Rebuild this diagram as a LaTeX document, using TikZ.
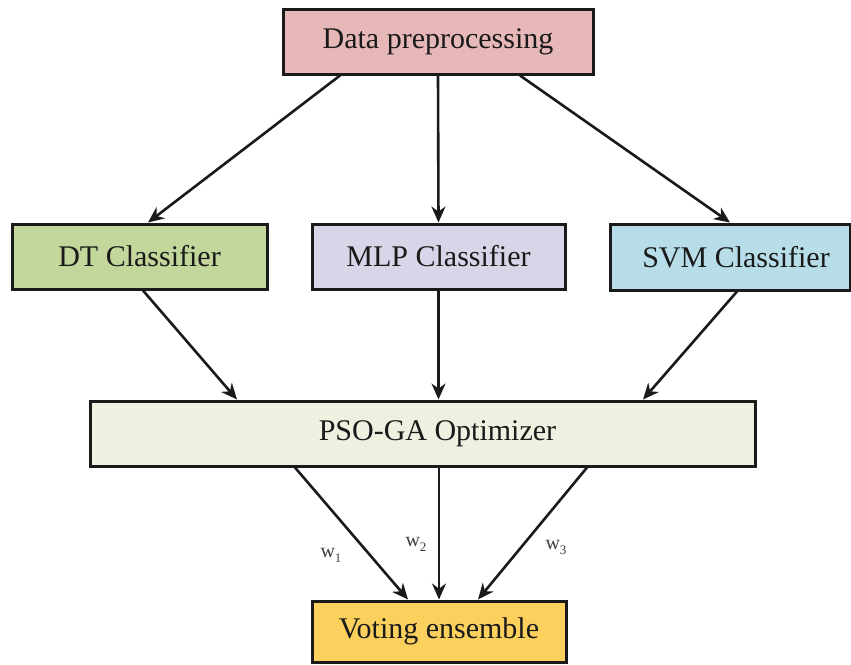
\documentclass[tikz,border=0pt]{standalone}
\usepackage{fontspec}
\setmainfont{Liberation Serif}
\newfontfamily\boxfont{Liberation Serif}
\usetikzlibrary{arrows.meta}
\definecolor{prepfill}{HTML}{E6B9B8}
\definecolor{dtfill}{HTML}{C3D69B}
\definecolor{mlpfill}{HTML}{D9D4E7}
\definecolor{svmfill}{HTML}{B6DDE8}
\definecolor{psofill}{HTML}{ECF2DF}
\definecolor{votefill}{HTML}{FBD05C}
\definecolor{ink}{HTML}{1A1A1A}
\tikzset{
  box/.style={draw=ink, line width=3pt, inner sep=0pt, text=ink,
    font=\boxfont\fontsize{30}{32}\selectfont},
  arr/.style={draw=ink, line width=2.6pt, -{Stealth[length=16pt,width=14pt]}},
  wlab/.style={text=ink!85, font=\boxfont\fontsize{20}{22}\selectfont, inner sep=0pt}
}
\begin{document}
\begin{tikzpicture}[x=1pt,y=-1pt]
  \useasboundingbox (0,0) rectangle (851,664);
  % processing stages
  \node[box, fill=prepfill, minimum width=310pt, minimum height=65pt] (prep) at (438,41.5) {Data preprocessing};
  \node[box, fill=dtfill, minimum width=255pt, minimum height=65pt] (dt) at (139.5,256.5) {DT Classifier};
  \node[box, fill=mlpfill, minimum width=253pt, minimum height=65pt] (mlp) at (438.5,256.5) {MLP Classifier};
  \node[box, fill=svmfill, minimum width=240pt, minimum height=66pt] (svm) at (730,257) {\hspace*{12pt}SVM Classifier};
  \node[box, fill=psofill, minimum width=665pt, minimum height=65pt] (pso) at (422.5,433.5) {\hspace*{30pt}PSO-GA Optimizer};
  \node[box, fill=votefill, minimum width=254pt, minimum height=61pt] (vote) at (439,631.5) {Voting ensemble};
  % preprocessing feeds the three classifiers
  \draw[arr] ([xshift=-98pt]prep.south) -- ([xshift=8.5pt]dt.north);
  \draw[arr] (prep.south) -- (mlp.north);
  \draw[arr] ([xshift=82pt]prep.south) -- (svm.north);
  % classifiers feed the optimizer
  \draw[arr] ([xshift=3.5pt]dt.south) -- ([xshift=-185.5pt]pso.north);
  \draw[arr] (mlp.south) -- ([xshift=16pt]pso.north);
  \draw[arr] ([xshift=7pt]svm.south) -- ([xshift=220.5pt]pso.north);
  % weighted votes
  \draw[arr] ([xshift=-127.5pt]pso.south) -- ([xshift=-31pt]vote.north);
  \draw[arr] ([xshift=16.5pt]pso.south) -- (vote.north);
  \draw[arr] ([xshift=164.5pt]pso.south) -- ([xshift=39pt]vote.north);
  \node[wlab] (w1) at (331,555) {w\raisebox{-0.25em}{\fontsize{13}{14}\selectfont 1}};
  \node[wlab] (w2) at (416,544) {w\raisebox{-0.25em}{\fontsize{13}{14}\selectfont 2}};
  \node[wlab] (w3) at (556,547) {w\raisebox{-0.25em}{\fontsize{13}{14}\selectfont 3}};
\end{tikzpicture}
\end{document}
